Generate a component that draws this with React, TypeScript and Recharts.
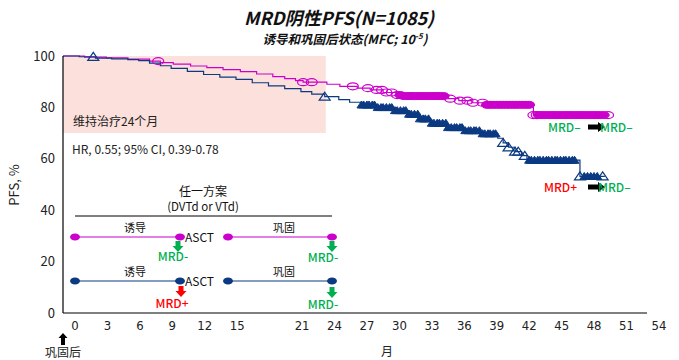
import { ComposedChart, Line, XAxis, YAxis, ReferenceArea } from 'recharts'

// KM 曲线：月份 t，PFS% s
const negNegCurve = [
  { t: 0, s: 100 }, { t: 2, s: 99.6 }, { t: 4, s: 99.3 }, { t: 6, s: 98.8 }, { t: 8, s: 98.0 },
  { t: 9, s: 97.4 }, { t: 10.2, s: 96.8 }, { t: 11.8, s: 96.1 }, { t: 13.3, s: 95.5 }, { t: 14.8, s: 94.7 },
  { t: 16.4, s: 93.9 }, { t: 17.9, s: 93.0 }, { t: 19.4, s: 92.0 }, { t: 20.5, s: 91.2 }, { t: 21.5, s: 90.4 },
  { t: 22.2, s: 89.8 }, { t: 24.4, s: 89.0 }, { t: 25.6, s: 88.2 }, { t: 27.2, s: 87.5 }, { t: 28.4, s: 86.8 },
  { t: 29.6, s: 85.8 }, { t: 30.9, s: 84.8 }, { t: 31.4, s: 84.4 }, { t: 35.6, s: 83.4 }, { t: 36.6, s: 82.6 },
  { t: 37.8, s: 81.8 }, { t: 39.0, s: 81.0 }, { t: 43.5, s: 77.0 }, { t: 50.4, s: 77.0 },
]

const posNegCurve = [
  { t: 0, s: 100 }, { t: 1.5, s: 99.7 }, { t: 3, s: 99.2 }, { t: 4.5, s: 98.9 }, { t: 6, s: 98.6 },
  { t: 7, s: 98.2 }, { t: 8, s: 97.2 }, { t: 9, s: 96.2 }, { t: 10, s: 95.2 }, { t: 11.5, s: 94.0 },
  { t: 13, s: 92.8 }, { t: 14.5, s: 91.8 }, { t: 16, s: 90.9 }, { t: 17.5, s: 89.6 }, { t: 19, s: 88.4 },
  { t: 20.5, s: 87.3 }, { t: 22, s: 86.1 }, { t: 23, s: 85.2 }, { t: 24.2, s: 84.2 }, { t: 25.5, s: 83.0 },
  { t: 26.5, s: 82.0 }, { t: 27.6, s: 81.0 }, { t: 29, s: 80.0 }, { t: 30.5, s: 78.8 }, { t: 32, s: 77.4 },
  { t: 33, s: 75.6 }, { t: 34, s: 73.9 }, { t: 35.5, s: 72.2 }, { t: 37, s: 71.0 }, { t: 38.6, s: 69.8 },
  { t: 40.2, s: 68.0 }, { t: 40.7, s: 66.2 }, { t: 41.2, s: 64.5 }, { t: 41.8, s: 62.8 }, { t: 42.4, s: 61.2 },
  { t: 42.9, s: 59.5 }, { t: 47.8, s: 53.2 }, { t: 50.1, s: 53.2 },
]

// 删失时间
const negNegCensorOpen = [8.8, 22.2, 23.0, 26.8, 28.2, 29.0, 29.5, 29.9, 30.4, 30.9, 35.8, 36.7, 37.4, 37.9, 38.8, 43.5, 43.8, 50.4]
const negNegCensorDense = [
  31.2, 31.5, 31.8, 32.1, 32.3, 32.6, 32.9, 33.2, 33.5, 33.8, 34.1, 34.4, 34.6, 34.9, 35.2,
  39.2, 39.5, 39.8, 40.1, 40.4, 40.7, 41.0, 41.3, 41.6, 41.9, 42.2, 42.5, 42.8, 43.1,
  44.0, 44.3, 44.6, 44.9, 45.2, 45.5, 45.8, 46.1, 46.4, 46.7, 47.0, 47.3, 47.6, 47.9, 48.2, 48.5, 48.8, 49.1, 49.4, 49.7, 50.0,
]
const posNegCensorOpen = [2.8, 24.2, 40.7, 41.2, 41.8, 42.1, 42.7, 47.8, 49.9]
const posNegCensorDense = [
  27.6, 27.8, 28.1, 28.3, 28.6, 28.8, 29.1, 29.4, 29.6, 29.9, 30.2, 30.4, 30.7, 30.9, 31.2, 31.5,
  31.7, 32.0, 32.2, 32.5, 32.8, 33.0, 33.3, 33.5, 33.8, 34.1, 34.3, 34.6, 34.8, 35.1, 35.4, 35.6,
  35.9, 36.2, 36.4, 36.7, 36.9, 37.2, 37.5, 37.7, 38.0, 38.2, 38.5, 38.8, 39.0, 39.3, 39.5, 39.8, 40.0,
  43.1, 43.3, 43.6, 43.9, 44.1, 44.4, 44.7, 44.9, 45.2, 45.5, 45.7, 46.0, 46.3, 46.5, 46.8, 47.1, 47.3,
  48.2, 48.5, 48.8, 49.1, 49.4,
]

const xTicks = [0, 3, 6, 9, 12, 15, 21, 24, 27, 30, 33, 36, 39, 42, 45, 48, 51, 54]
const yTicks = [0, 20, 40, 60, 80, 100]

const MAGENTA = '#cc00cc'
const NAVY = '#0b3a82'
const GREEN = '#00b050'
const RED = '#ff0000'
const CJK = "'Noto Sans CJK SC', 'Noto Sans', sans-serif"

type Pt = { t: number; s: number }
const valueAt = (curve: Pt[], t: number) => {
  let s = curve[0].s
  for (const p of curve) if (p.t <= t) s = p.s
  return s
}
const marks = (curve: Pt[], times: number[]) => times.map(t => ({ t, s: valueAt(curve, t) }))

const openCircle = (p: any) => (
  <ellipse key={p.key} cx={p.cx} cy={p.cy} rx={5.5} ry={3.5} fill="none" stroke={MAGENTA} strokeWidth={1.2} />
)
const filledCircle = (p: any) => (
  <ellipse key={p.key} cx={p.cx} cy={p.cy} rx={5.5} ry={3.5} fill={MAGENTA} stroke={MAGENTA} strokeWidth={1} />
)
const tri = (cx: number, cy: number, w: number, h: number) =>
  `${cx},${cy - h * 0.55} ${cx - w / 2},${cy + h * 0.45} ${cx + w / 2},${cy + h * 0.45}`
const openTri = (p: any) => (
  <polygon key={p.key} points={tri(p.cx, p.cy, 11, 8)} fill="none" stroke={NAVY} strokeWidth={1.2} />
)
const filledTri = (p: any) => (
  <polygon key={p.key} points={tri(p.cx, p.cy, 9, 7)} fill={NAVY} stroke={NAVY} strokeWidth={1} />
)

function XTick({ x, y, payload }: any) {
  return (
    <text x={x + 12} y={y} dy="0.71em" textAnchor="middle" fontSize={13} fill="#222"
      fontFamily="'Liberation Sans Narrow', 'DejaVu Sans Condensed', sans-serif">{payload.value}</text>
  )
}

function DownArrow({ x, y, color }: { x: number; y: number; color: string }) {
  // y 为箭头顶部
  return <polygon points={`${x - 2.5},${y} ${x + 2.5},${y} ${x + 2.5},${y + 5} ${x + 5.5},${y + 5} ${x},${y + 11} ${x - 5.5},${y + 5} ${x - 2.5},${y + 5}`} fill={color} />
}

function RightArrow({ x, y }: { x: number; y: number }) {
  return <polygon points={`${x},${y - 2.5} ${x + 10},${y - 2.5} ${x + 10},${y - 5} ${x + 17},${y} ${x + 10},${y + 5} ${x + 10},${y + 2.5} ${x},${y + 2.5}`} fill="#000" />
}

function Scheme() {
  const row = (y: number, color: string) => (
    <g>
      <line x1={75} y1={y} x2={180} y2={y} stroke={color} strokeWidth={1.2} />
      <ellipse cx={75} cy={y} rx={5} ry={3.5} fill={color} />
      <ellipse cx={180} cy={y} rx={5} ry={3.5} fill={color} />
      <line x1={228} y1={y} x2={332} y2={y} stroke={color} strokeWidth={1.2} />
      <ellipse cx={228} cy={y} rx={5} ry={3.5} fill={color} />
      <ellipse cx={332} cy={y} rx={5} ry={3.5} fill={color} />
      <text x={135} y={y - 5} textAnchor="middle" fontSize={11}>诱导</text>
      <text x={284} y={y - 5} textAnchor="middle" fontSize={11}>巩固</text>
      <text x={185} y={y + 5} fontSize={12}>ASCT</text>
    </g>
  )
  return (
    <g fontFamily={CJK} fill="#111">
      <text x={203} y={196} textAnchor="middle" fontSize={12}>任一方案</text>
      <text x={203} y={211} textAnchor="middle" fontSize={11.5}>(DVTd or VTd)</text>
      <line x1={75} y1={216} x2={332} y2={216} stroke="#000" strokeWidth={1} />
      {row(237, MAGENTA)}
      <DownArrow x={178} y={241} color={GREEN} />
      <text x={173} y={261} textAnchor="middle" fontSize={12} fontWeight={500} fill={GREEN}>MRD-</text>
      <DownArrow x={332} y={241} color={GREEN} />
      <text x={323} y={262} textAnchor="middle" fontSize={12} fontWeight={500} fill={GREEN}>MRD-</text>
      {row(281, NAVY)}
      <DownArrow x={181} y={286} color={RED} />
      <text x={172} y={308} textAnchor="middle" fontSize={12} fontWeight={500} fill={RED}>MRD+</text>
      <DownArrow x={332} y={287} color={GREEN} />
      <text x={323} y={309} textAnchor="middle" fontSize={12} fontWeight={500} fill={GREEN}>MRD-</text>
    </g>
  )
}

export default function App() {
  return (
    <div style={{ position: 'absolute', left: 0, top: 0, width: 679, height: 360, background: '#fff' }}>
      <ComposedChart width={679} height={360} margin={{ top: 56, right: 32, bottom: 17, left: 10 }}>
        <XAxis dataKey="t" type="number" domain={[0, 54]} ticks={xTicks} interval={0} height={30}
          axisLine={{ stroke: '#000', strokeWidth: 1.2 }} tickLine={false} tick={<XTick />} allowDataOverflow />
        <YAxis type="number" domain={[0, 100]} ticks={yTicks} width={53} axisLine={{ stroke: '#000', strokeWidth: 1.2 }}
          tickLine={false} tick={{ fontSize: 13, fill: '#222', fontFamily: CJK }} />
        <ReferenceArea x1={0} x2={24.3} y1={70} y2={100} fill="#fbe0db" fillOpacity={1} stroke="none" ifOverflow="visible" />
        <Line data={negNegCurve} dataKey="s" type="stepAfter" stroke={MAGENTA} strokeWidth={1.2} dot={false} activeDot={false} isAnimationActive={false} />
        <Line data={posNegCurve} dataKey="s" type="stepAfter" stroke={NAVY} strokeWidth={1.2} dot={false} activeDot={false} isAnimationActive={false} />
        <Line data={marks(negNegCurve, negNegCensorDense)} dataKey="s" stroke="none" dot={filledCircle} activeDot={false} isAnimationActive={false} />
        <Line data={marks(negNegCurve, negNegCensorOpen)} dataKey="s" stroke="none" dot={openCircle} activeDot={false} isAnimationActive={false} />
        <Line data={marks(posNegCurve, posNegCensorDense)} dataKey="s" stroke="none" dot={filledTri} activeDot={false} isAnimationActive={false} />
        <Line data={marks(posNegCurve, posNegCensorOpen)} dataKey="s" stroke="none" dot={openTri} activeDot={false} isAnimationActive={false} />
      </ComposedChart>
      <svg width={679} height={360} style={{ position: 'absolute', left: 0, top: 0, pointerEvents: 'none' }}>
        <g fontFamily={CJK}>
          <text x={339} y={25} textAnchor="middle" fontSize={18} fontWeight="bold" fontStyle="italic" fill="#111">MRD阴性PFS(N=1085)</text>
          <text x={345} y={44} textAnchor="middle" fontSize={12.5} fontWeight="bold" fontStyle="italic" fill="#111">
            诱导和巩固后状态(MFC; 10<tspan dy={-5} fontSize={8}>-5</tspan><tspan dy={5}>)</tspan>
          </text>
          <text x={73} y={126} fontSize={12} fill="#222">维持治疗24个月</text>
          <text x={72} y={154} fontSize={12} fill="#222">HR, 0.55; 95% CI, 0.39-0.78</text>
          <text x={19} y={185} fontSize={13} fill="#222" textAnchor="middle" transform="rotate(-90 19 185)">PFS, %</text>
          <text x={387} y={356} fontSize={12} fill="#222" textAnchor="middle">月</text>
          <polygon points="63,333 67.5,338 65,338 65,345 61,345 61,338 58.5,338" fill="#000" />
          <text x={63} y={357} fontSize={12} fill="#222" textAnchor="middle">巩固后</text>
          <text x={548} y={132} fontSize={12} fontWeight={500} fill={GREEN}>MRD–</text>
          <RightArrow x={588} y={127} />
          <text x={600} y={132} fontSize={12} fontWeight={500} fill={GREEN}>MRD–</text>
          <text x={544} y={192} fontSize={12} fontWeight={500} fill={RED}>MRD+</text>
          <RightArrow x={588} y={187} />
          <text x={598} y={192} fontSize={12} fontWeight={500} fill={GREEN}>MRD–</text>
        </g>
        <Scheme />
      </svg>
    </div>
  )
}
